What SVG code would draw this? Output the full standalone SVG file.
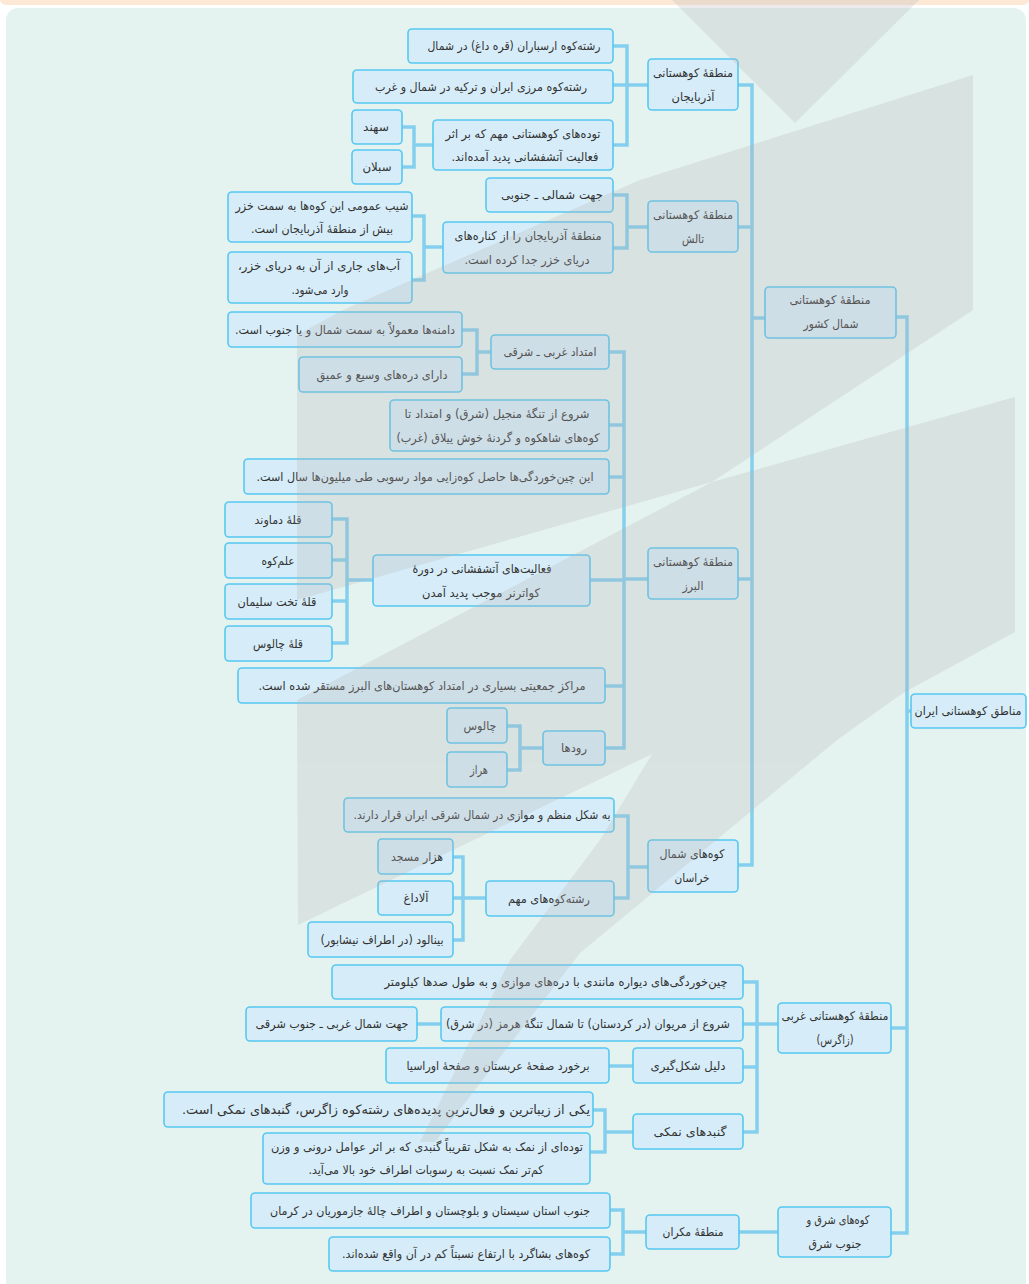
<svg xmlns="http://www.w3.org/2000/svg" width="1029" height="1284" viewBox="0 0 1029 1284">
<style>
.box{fill:#d6edf9;stroke:#56c8f1;stroke-width:1.6}
.t{font-family:"DejaVu Sans",sans-serif;font-size:12px;fill:#333;text-anchor:middle;direction:rtl}
.con{fill:none;stroke:#84cfee;stroke-width:3.5}
</style>
<rect x="0" y="-10" width="1029" height="15" rx="6" fill="#fde9d5"/>
<rect x="6" y="8" width="1020" height="1290" rx="12" fill="#e4f3f0"/>
<g id="connectors" class="con">
<path d="M613,46H627V145H613M613,85H648"/>
<path d="M402,127H414V167H402M414,145H433"/>
<path d="M613,195H627V248H613M627,227H648"/>
<path d="M412,216H424V280H412M424,247H443"/>
<path d="M738,85H752V865H738M738,227H752M738,579H752M752,318H765"/>
<path d="M609,352H624V748H605M609,425H624M609,477H624M590,580H624M605,686H624M624,579H648"/>
<path d="M462,330H477V374H462M477,352H491"/>
<path d="M332,519H347V643H332M332,560H347M332,601H347M347,580H373"/>
<path d="M507,726H520V770H507M520,748H543"/>
<path d="M614,816H628V898H614M628,867H648"/>
<path d="M453,857H463V940H453M453,898H486"/>
<path d="M896,317H907V1233H891M891,1028H907M907,711H911"/>
<path d="M743,982H757V1132H743M743,1024H778M743,1067H757"/>
<path d="M417,1024H441M609,1066H633"/>
<path d="M593,1110H605V1152H590M605,1132H633"/>
<path d="M739,1232H778M610,1210H623V1254H610M623,1232H646"/>
</g>
<g id="n_root"><rect class="box" x="911" y="694" width="115" height="34" rx="4"/><text class="t" x="968" y="715" textLength="107" lengthAdjust="spacingAndGlyphs">مناطق کوهستانی ایران</text></g>
<g id="n_north"><rect class="box" x="765" y="287" width="131" height="51" rx="4"/><text class="t" x="830" y="304" textLength="81" lengthAdjust="spacingAndGlyphs">منطقهٔ کوهستانی</text><text class="t" x="831" y="328" textLength="55" lengthAdjust="spacingAndGlyphs">شمال کشور</text></g>
<g id="n_zagros"><rect class="box" x="778" y="1003" width="113" height="50" rx="4"/><text class="t" x="835" y="1020" textLength="107" lengthAdjust="spacingAndGlyphs">منطقهٔ کوهستانی غربی</text><text class="t" x="835" y="1044" textLength="37" lengthAdjust="spacingAndGlyphs">(زاگرس)</text></g>
<g id="n_east"><rect class="box" x="778" y="1207" width="113" height="50" rx="4"/><text class="t" x="838" y="1224" textLength="63" lengthAdjust="spacingAndGlyphs">کوه&#x200C;های شرق و</text><text class="t" x="835" y="1248" textLength="53" lengthAdjust="spacingAndGlyphs">جنوب شرق</text></g>
<g id="n_azar"><rect class="box" x="648" y="59" width="90" height="51" rx="4"/><text class="t" x="693" y="77" textLength="80" lengthAdjust="spacingAndGlyphs">منطقهٔ کوهستانی</text><text class="t" x="693" y="101" textLength="43" lengthAdjust="spacingAndGlyphs">آذربایجان</text></g>
<g id="n_talesh"><rect class="box" x="648" y="201" width="90" height="51" rx="4"/><text class="t" x="693" y="219" textLength="80" lengthAdjust="spacingAndGlyphs">منطقهٔ کوهستانی</text><text class="t" x="693" y="243" textLength="22" lengthAdjust="spacingAndGlyphs">تالش</text></g>
<g id="n_alborz"><rect class="box" x="648" y="548" width="90" height="51" rx="4"/><text class="t" x="693" y="566" textLength="80" lengthAdjust="spacingAndGlyphs">منطقهٔ کوهستانی</text><text class="t" x="693" y="590" textLength="21" lengthAdjust="spacingAndGlyphs">البرز</text></g>
<g id="n_khorasan"><rect class="box" x="648" y="840" width="90" height="52" rx="4"/><text class="t" x="692" y="858" textLength="65" lengthAdjust="spacingAndGlyphs">کوه&#x200C;های شمال</text><text class="t" x="692" y="882" textLength="35" lengthAdjust="spacingAndGlyphs">خراسان</text></g>
<g id="a1"><rect class="box" x="408" y="29" width="205" height="34" rx="4"/><text class="t" x="514" y="50" textLength="173" lengthAdjust="spacingAndGlyphs">رشته&#x200C;کوه ارسباران (قره داغ) در شمال</text></g>
<g id="a2"><rect class="box" x="353" y="70" width="260" height="33" rx="4"/><text class="t" x="481" y="91" textLength="212" lengthAdjust="spacingAndGlyphs">رشته&#x200C;کوه مرزی ایران و ترکیه در شمال و غرب</text></g>
<g id="a3"><rect class="box" x="433" y="120" width="180" height="50" rx="4"/><text class="t" x="523" y="138" textLength="155" lengthAdjust="spacingAndGlyphs">توده&#x200C;های کوهستانی مهم که بر اثر</text><text class="t" x="525" y="161" textLength="147" lengthAdjust="spacingAndGlyphs">فعالیت آتشفشانی پدید آمده&#x200C;اند.</text></g>
<g id="a3a"><rect class="box" x="352" y="110" width="50" height="34" rx="4"/><text class="t" x="376" y="131" textLength="26" lengthAdjust="spacingAndGlyphs">سهند</text></g>
<g id="a3b"><rect class="box" x="352" y="150" width="50" height="34" rx="4"/><text class="t" x="377" y="171" textLength="29" lengthAdjust="spacingAndGlyphs">سبلان</text></g>
<g id="t1"><rect class="box" x="486" y="178" width="127" height="34" rx="4"/><text class="t" x="552" y="199" textLength="102" lengthAdjust="spacingAndGlyphs">جهت شمالی ـ جنوبی</text></g>
<g id="t2"><rect class="box" x="443" y="222" width="170" height="51" rx="4"/><text class="t" x="528" y="240" textLength="147" lengthAdjust="spacingAndGlyphs">منطقهٔ آذربایجان را از کناره&#x200C;های</text><text class="t" x="527" y="264" textLength="125" lengthAdjust="spacingAndGlyphs">دریای خزر جدا کرده است.</text></g>
<g id="t2a"><rect class="box" x="228" y="192" width="184" height="50" rx="4"/><text class="t" x="322" y="210" textLength="173" lengthAdjust="spacingAndGlyphs">شیب عمومی این کوه&#x200C;ها به سمت خزر</text><text class="t" x="322" y="233" textLength="142" lengthAdjust="spacingAndGlyphs">بیش از منطقهٔ آذربایجان است.</text></g>
<g id="t2b"><rect class="box" x="228" y="252" width="184" height="51" rx="4"/><text class="t" x="319" y="270" textLength="162" lengthAdjust="spacingAndGlyphs">آب&#x200C;های جاری از آن به دریای خزر،</text><text class="t" x="320" y="294" textLength="57" lengthAdjust="spacingAndGlyphs">وارد می&#x200C;شود.</text></g>
<g id="b1"><rect class="box" x="491" y="335" width="118" height="34" rx="4"/><text class="t" x="550" y="356" textLength="93" lengthAdjust="spacingAndGlyphs">امتداد غربی ـ شرقی</text></g>
<g id="b1a"><rect class="box" x="228" y="312" width="234" height="35" rx="4"/><text class="t" x="345" y="334" textLength="220" lengthAdjust="spacingAndGlyphs">دامنه&#x200C;ها معمولاً به سمت شمال و یا جنوب است.</text></g>
<g id="b1b"><rect class="box" x="299" y="357" width="163" height="35" rx="4"/><text class="t" x="382" y="379" textLength="131" lengthAdjust="spacingAndGlyphs">دارای دره&#x200C;های وسیع و عمیق</text></g>
<g id="b2"><rect class="box" x="390" y="400" width="219" height="51" rx="4"/><text class="t" x="497" y="418" textLength="185" lengthAdjust="spacingAndGlyphs">شروع از تنگهٔ منجیل (شرق) و امتداد تا</text><text class="t" x="498" y="442" textLength="203" lengthAdjust="spacingAndGlyphs">کوه&#x200C;های شاهکوه و گردنهٔ خوش ییلاق (غرب)</text></g>
<g id="b3"><rect class="box" x="244" y="459" width="365" height="35" rx="4"/><text class="t" x="425" y="481" textLength="337" lengthAdjust="spacingAndGlyphs">این چین&#x200C;خوردگی&#x200C;ها حاصل کوه&#x200C;زایی مواد رسوبی طی میلیون&#x200C;ها سال است.</text></g>
<g id="b4"><rect class="box" x="373" y="555" width="217" height="51" rx="4"/><text class="t" x="482" y="573" textLength="139" lengthAdjust="spacingAndGlyphs">فعالیت&#x200C;های آتشفشانی در دورهٔ</text><text class="t" x="481" y="597" textLength="118" lengthAdjust="spacingAndGlyphs">کواترنر موجب پدید آمدن</text></g>
<g id="b4a"><rect class="box" x="225" y="502" width="107" height="35" rx="4"/><text class="t" x="278" y="524" textLength="47" lengthAdjust="spacingAndGlyphs">قلهٔ دماوند</text></g>
<g id="b4b"><rect class="box" x="225" y="543" width="107" height="35" rx="4"/><text class="t" x="278" y="565" textLength="33" lengthAdjust="spacingAndGlyphs">علم&#x200C;کوه</text></g>
<g id="b4c"><rect class="box" x="225" y="584" width="107" height="35" rx="4"/><text class="t" x="277" y="606" textLength="79" lengthAdjust="spacingAndGlyphs">قلهٔ تخت سلیمان</text></g>
<g id="b4d"><rect class="box" x="225" y="626" width="107" height="35" rx="4"/><text class="t" x="278" y="648" textLength="50" lengthAdjust="spacingAndGlyphs">قلهٔ چالوس</text></g>
<g id="b5"><rect class="box" x="238" y="668" width="367" height="35" rx="4"/><text class="t" x="422" y="690" textLength="327" lengthAdjust="spacingAndGlyphs">مراکز جمعیتی بسیاری در امتداد کوهستان&#x200C;های البرز مستقر شده است.</text></g>
<g id="b6"><rect class="box" x="543" y="731" width="62" height="34" rx="4"/><text class="t" x="574" y="752" textLength="26" lengthAdjust="spacingAndGlyphs">رودها</text></g>
<g id="b6a"><rect class="box" x="447" y="708" width="60" height="35" rx="4"/><text class="t" x="480" y="730" textLength="33" lengthAdjust="spacingAndGlyphs">چالوس</text></g>
<g id="b6b"><rect class="box" x="447" y="752" width="60" height="35" rx="4"/><text class="t" x="479" y="774" textLength="18" lengthAdjust="spacingAndGlyphs">هراز</text></g>
<g id="k1"><rect class="box" x="344" y="798" width="270" height="34" rx="4"/><text class="t" x="482" y="819" textLength="257" lengthAdjust="spacingAndGlyphs">به شکل منظم و موازی در شمال شرقی ایران قرار دارند.</text></g>
<g id="k2"><rect class="box" x="486" y="881" width="128" height="35" rx="4"/><text class="t" x="549" y="903" textLength="82" lengthAdjust="spacingAndGlyphs">رشته&#x200C;کوه&#x200C;های مهم</text></g>
<g id="k2a"><rect class="box" x="378" y="839" width="75" height="35" rx="4"/><text class="t" x="417" y="861" textLength="52" lengthAdjust="spacingAndGlyphs">هزار مسجد</text></g>
<g id="k2b"><rect class="box" x="378" y="881" width="75" height="34" rx="4"/><text class="t" x="416" y="902" textLength="25" lengthAdjust="spacingAndGlyphs">آلاداغ</text></g>
<g id="k2c"><rect class="box" x="308" y="922" width="145" height="35" rx="4"/><text class="t" x="382" y="944" textLength="123" lengthAdjust="spacingAndGlyphs">بینالود (در اطراف نیشابور)</text></g>
<g id="z1"><rect class="box" x="332" y="965" width="411" height="34" rx="4"/><text class="t" x="556" y="986" textLength="343" lengthAdjust="spacingAndGlyphs">چین&#x200C;خوردگی&#x200C;های دیواره مانندی با دره&#x200C;های موازی و به طول صدها کیلومتر</text></g>
<g id="z2"><rect class="box" x="441" y="1007" width="302" height="34" rx="4"/><text class="t" x="588" y="1028" textLength="284" lengthAdjust="spacingAndGlyphs">شروع از مریوان (در کردستان) تا شمال تنگهٔ هرمز (در شرق)</text></g>
<g id="z2a"><rect class="box" x="246" y="1007" width="171" height="34" rx="4"/><text class="t" x="332" y="1028" textLength="153" lengthAdjust="spacingAndGlyphs">جهت شمال غربی ـ جنوب شرقی</text></g>
<g id="z3"><rect class="box" x="633" y="1048" width="110" height="35" rx="4"/><text class="t" x="688" y="1070" textLength="75" lengthAdjust="spacingAndGlyphs">دلیل شکل&#x200C;گیری</text></g>
<g id="z3a"><rect class="box" x="386" y="1048" width="223" height="35" rx="4"/><text class="t" x="498" y="1070" textLength="183" lengthAdjust="spacingAndGlyphs">برخورد صفحهٔ عربستان و صفحهٔ اوراسیا</text></g>
<g id="z4"><rect class="box" x="633" y="1114" width="110" height="35" rx="4"/><text class="t" x="690" y="1136" textLength="73" lengthAdjust="spacingAndGlyphs">گنبدهای نمکی</text></g>
<g id="z4a"><rect class="box" x="164" y="1092" width="429" height="35" rx="4"/><text class="t" x="386" y="1114" textLength="408" lengthAdjust="spacingAndGlyphs" style="font-size:13px">یکی از زیباترین و فعال&#x200C;ترین پدیده&#x200C;های رشته&#x200C;کوه زاگرس، گنبدهای نمکی است.</text></g>
<g id="z4b"><rect class="box" x="263" y="1133" width="327" height="51" rx="4"/><text class="t" x="427" y="1151" textLength="312" lengthAdjust="spacingAndGlyphs">توده&#x200C;ای از نمک به شکل تقریباً گنبدی که بر اثر عوامل درونی و وزن</text><text class="t" x="426" y="1174" textLength="235" lengthAdjust="spacingAndGlyphs">کم&#x200C;تر نمک نسبت به رسوبات اطراف خود بالا می&#x200C;آید.</text></g>
<g id="e1"><rect class="box" x="646" y="1215" width="93" height="34" rx="4"/><text class="t" x="693" y="1236" textLength="61" lengthAdjust="spacingAndGlyphs">منطقهٔ مکران</text></g>
<g id="e1a"><rect class="box" x="251" y="1193" width="359" height="35" rx="4"/><text class="t" x="430" y="1215" textLength="320" lengthAdjust="spacingAndGlyphs">جنوب استان سیستان و بلوچستان و اطراف چالهٔ جازموریان در کرمان</text></g>
<g id="e1b"><rect class="box" x="329" y="1237" width="281" height="34" rx="4"/><text class="t" x="466" y="1258" textLength="248" lengthAdjust="spacingAndGlyphs">کوه&#x200C;های بشاگرد با  ارتفاع نسبتاً کم در آن واقع شده&#x200C;اند.</text></g>
<g id="watermark" opacity="0.26" fill="#b8b4b4">
<polygon points="672,0 919,0 795,123"/>
<polygon points="297,335 343,310 640,180 973,75 973,310 712,482 297,600"/>
<polygon points="297,700 712,482 1015,397 1015,632 903,693 837,740 580,953 435,1142 420,1142 510,960 600,840 652,754 298,925"/>
</g>
</svg>
